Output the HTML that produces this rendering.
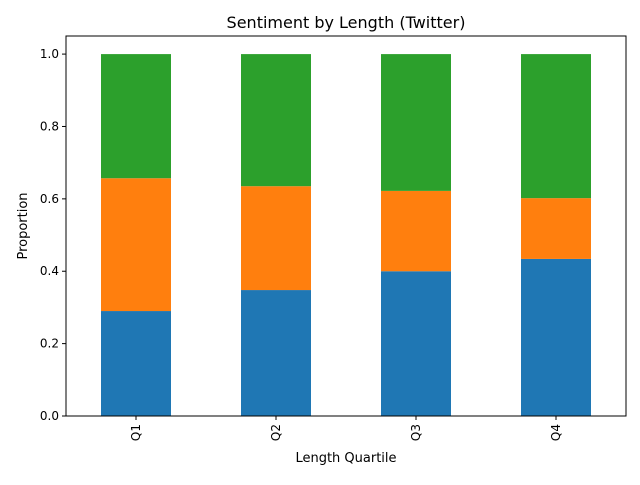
<!DOCTYPE html>
<html><head><meta charset="utf-8"><style>
body{margin:0;background:#fff;}
svg text{font-family:"DejaVu Sans","Liberation Sans",sans-serif;fill:#000;}
</style></head><body>
<svg id="chart" width="640" height="480" xmlns="http://www.w3.org/2000/svg">
<text x="346" y="28" font-size="16" text-anchor="middle">Sentiment by Length (Twitter)</text>
<text x="346" y="462" font-size="13" text-anchor="middle">Length Quartile</text>
<text transform="translate(27,226) rotate(-90)" font-size="13" text-anchor="middle">Proportion</text>
<g id="bars"></g>
<rect x="66" y="36" width="560" height="380" fill="none" stroke="#000" stroke-width="1"/>
<g id="axes"></g>
</svg>
<script>
const categories=["Q1","Q2","Q3","Q4"];
const negative=[0.290,0.348,0.400,0.434];
const neutral=[0.367,0.287,0.222,0.168];
const positive=[0.343,0.365,0.378,0.398];
const yTicks=[0,0.2,0.4,0.6,0.8,1.0];
const yTickLabels=["0.0","0.2","0.4","0.6","0.8","1.0"];
const colors=["#1f77b4","#ff7f0e","#2ca02c"];
const L=66,R=626,T=36,B=416;
const band=(R-L)/categories.length;
function xC(i){return L+band*(i+0.5);}
function y(v){return B-(v/1.05)*(B-T);}
const ns="http://www.w3.org/2000/svg";
const bars=document.getElementById('bars');
const axes=document.getElementById('axes');
const series=[negative,neutral,positive];
const sNames=["negative","neutral","positive"];
categories.forEach((c,i)=>{
  let base=0;
  series.forEach((s,k)=>{
    const r=document.createElementNS(ns,'rect');
    const bw=band*0.5;
    r.setAttribute('x',xC(i)-bw/2);
    r.setAttribute('width',bw);
    r.setAttribute('y',y(base+s[i]));
    r.setAttribute('height',y(base)-y(base+s[i]));
    r.setAttribute('fill',colors[k]);
    
    
    bars.appendChild(r);
    base+=s[i];
  });
  const t=document.createElementNS(ns,'line');
  t.setAttribute('x1',xC(i));t.setAttribute('x2',xC(i));
  t.setAttribute('y1',B);t.setAttribute('y2',B+4);t.setAttribute('stroke','#000');
  
  
  axes.appendChild(t);
  const tx=document.createElementNS(ns,'text');
  tx.setAttribute('transform','translate('+(xC(i)+4)+','+(B+8)+') rotate(-90)');
  tx.setAttribute('font-size','12');tx.setAttribute('text-anchor','end');
  tx.textContent=c;
  
  
  axes.appendChild(tx);
});
yTicks.forEach((v,j)=>{
  const t=document.createElementNS(ns,'line');
  t.setAttribute('x1',L-4);t.setAttribute('x2',L);
  t.setAttribute('y1',y(v));t.setAttribute('y2',y(v));t.setAttribute('stroke','#000');
  
  
  axes.appendChild(t);
  const tx=document.createElementNS(ns,'text');
  tx.setAttribute('x',L-7);tx.setAttribute('y',y(v)+4);
  tx.setAttribute('font-size','12');tx.setAttribute('text-anchor','end');
  tx.textContent=yTickLabels[j];
  
  
  axes.appendChild(tx);
});
</script>
</body></html>
